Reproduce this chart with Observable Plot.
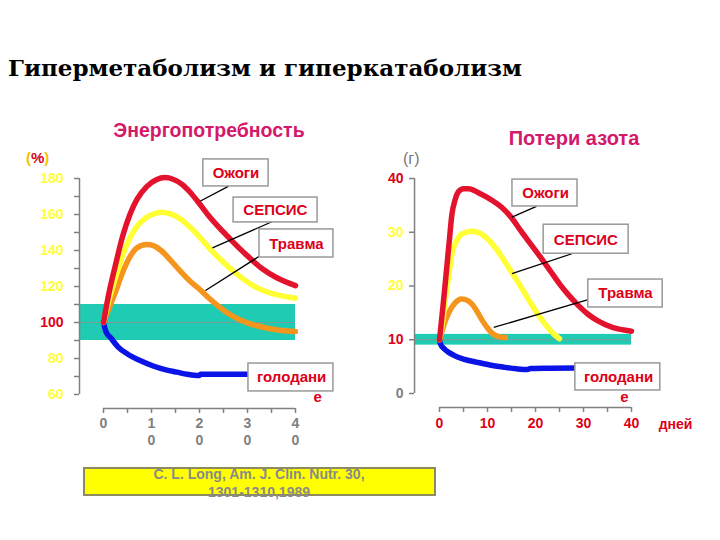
<!DOCTYPE html>
<html><head><meta charset="utf-8">
<script src="https://cdn.jsdelivr.net/npm/d3@7"></script>
<script src="https://cdn.jsdelivr.net/npm/@observablehq/plot@0.6"></script>
<style>
body{margin:0;background:#fff;}
#root{position:relative;width:720px;height:540px;overflow:hidden;background:#fff;font-family:"Liberation Sans",Arial,sans-serif;}
.abs{position:absolute;white-space:nowrap;line-height:1;}
.panel{position:absolute;}
</style></head><body><div id="root">
<div class="abs" style="left:8px;top:54px;font:bold 23px 'DejaVu Serif',serif;color:#000;">Гиперметаболизм и гиперкатаболизм</div>
<div class="abs" style="left:209px;top:121px;transform:translateX(-50%);font-weight:bold;font-size:19.5px;color:#d4186a;">Энергопотребность</div>
<div class="abs" style="left:574px;top:128px;transform:translateX(-50%);font-weight:bold;font-size:20px;color:#d4186a;">Потери азота</div>
<div class="abs" style="left:26px;top:150px;font-weight:bold;font-size:15px;"><span style="color:#f5c400">(</span><span style="color:#d9001b">%</span><span style="color:#f5c400">)</span></div>
<div class="abs" style="left:403px;top:151px;font-size:16px;color:#777;">(г)</div>
<div class="abs" style="left:83px;top:467px;width:353px;height:29px;box-sizing:border-box;background:#ffff00;border:2px solid #8b8b5e;"></div>
<div class="abs" style="left:259px;top:465px;transform:translateX(-50%);text-align:center;font-weight:bold;font-size:14px;line-height:18px;color:#8a8a8a;">C. L. Long, Am. J. Clin. Nutr. 30,<br>1301-1310,1989</div>
</div>
<script>
// ---------- data: Энергопотребность (%) ----------
const energyBurnsDays = [0,1,2.5,4,5.5,7,9,11,12.8,14.5,16.5,18,20,22,24,26,28,30,33,36,40];
const energyBurnsPct  = [100,114.5,132,148,160,168.5,175.5,179.3,180.5,179.6,176.5,172.5,166,159,153,147.5,142,137,130,125,120.5];
const energySepsisDays = [0,1,2.5,4,5.5,7,9,11,12.3,14,16,18,20,22,24,26,28,30,33,36,40];
const energySepsisPct  = [100,111,125,137.5,147,153.5,158.5,160.8,161.3,160.3,157.5,153,147.5,141.5,136,131,126.5,122.5,118,115.5,113.5];
const energyTraumaDays = [0,1,2.5,4,5.5,7,9,10.5,12,14,16,18,20,22,24,26,28,30,33,36,40];
const energyTraumaPct  = [100,107,117,128,136.5,141.5,143.3,142.6,140,134.5,128.5,123,118.5,113.5,109,105,102,99.8,97.5,96,95];
const energyStarvDays = [0,0.5,1.5,3,5,7.5,10.5,13,15.3,17.5,19.8,20.3,25,30];
const energyStarvPct  = [100,95,91.5,86.5,82.5,79,75.7,73.7,72.4,71.2,70.5,71.2,71.3,71.3];
const energyNormalBand = [90,110];
const energyNormalLine = [100];
const energyTicksMinor = [60,70,80,90,100,110,120,130,140,150,160,170,180];
const energyTicksYellow = [60,80,120,140,160,180];
const energyTicksRed = [100];
const dayTicksMinor = [0,5,10,15,20,25,30,35,40];
const dayTicksMajor = [0,10,20,30,40];

// ---------- data: Потери азота (г) ----------
const nitroBurnsDays = [0,0.7,1.25,2,2.6,3.3,4,5,6.1,8,11,13,15,17,19,21,23,25,27,29,31,33,36,40];
const nitroBurnsG    = [10,16,21,28,33.4,36.2,37.6,38.1,38.1,37.4,35.9,34.6,32.7,30.2,27.8,25.4,22.9,20.4,18.2,16.3,14.7,13.5,12.3,11.6];
const nitroSepsisDays = [0,0.6,1.25,2,2.6,3.5,4.7,6.8,8.5,10,12,14,16,18,20,22,24,25];
const nitroSepsisG    = [10,13,17.9,22.5,26,28.3,29.7,30.2,29.8,28.8,26.7,24,21.2,18.3,15.4,12.9,10.9,10.2];
const nitroTraumaDays = [0,0.6,1.25,2.2,3.3,4.5,5.3,6.8,8,8.9,10,11,12.3,13.75];
const nitroTraumaG    = [10,11.8,13.6,15.5,16.9,17.6,17.5,16.6,15,13.6,12.2,11.2,10.6,10.4];
const nitroStarvDays = [0,0.2,1,2,3,5,7.85,10.5,13.4,16,18.3,19,23,28.7];
const nitroStarvG    = [10,9.2,8.3,7.6,7.1,6.4,5.8,5.3,4.9,4.6,4.45,4.65,4.7,4.75];
const nitroNormalBand = [9,11];
const nitroNormalLine = [10];
const nitroTicksRed = [10,40];
const nitroTicksYellow = [20,30];
const nitroTicksGray = [0];
const nitroTicksAll = [0,10,20,30,40];

const labelBurns = "Ожоги", labelSepsis = "СЕПСИС", labelTrauma = "Травма";
const labelStarvA = "голодани", labelStarvB = "е";
const unitDays = "дней";

// ---------- styles ----------
const RED = "#e3122d", YEL = "#ffff33", ORA = "#f5951d", BLU = "#0a14e6";
const BAND = "#1fcbb3", GRAY = "#808080", TXTRED = "#dd0018", TICKYEL = "#ffff3a";
const FONT = "Liberation Sans, Arial, sans-serif";

const zip = (xs, ys) => xs.map((d, i) => ({d, v: ys[i]}));
const curve = (xs, ys, color) => Plot.line(zip(xs, ys), {x: "d", y: "v", stroke: color, strokeWidth: 5.5, curve: "monotone-x", strokeLinecap: "round", strokeLinejoin: "round"});

function annotation(a) {
  const marks = [];
  if (a.pointer) marks.push(Plot.link([a.pointer], {x1: p => p[0], y1: p => p[1], x2: p => p[2], y2: p => p[3], stroke: "#000", strokeWidth: 1.3}));
  marks.push(Plot.rect([a.box], {x1: b => b[0], x2: b => b[1], y1: b => b[2], y2: b => b[3], fill: "#fff", stroke: "#999", strokeWidth: 1.5}));
  marks.push(Plot.text([a.text], {x: a.at[0], y: a.at[1], text: d => d, fill: TXTRED, fontWeight: "bold", fontSize: 15, fontFamily: FONT}));
  return marks;
}

// ---------- left panel ----------
const left = Plot.plot({
  width: 360, height: 360,
  marginLeft: 79, marginTop: 78, marginBottom: 52, marginRight: 65,
  style: {background: "transparent", fontFamily: FONT, overflow: "visible"},
  x: {domain: [0, 40], range: [103, 295]},
  y: {domain: [60, 180], range: [294, 78]},
  marks: [
    Plot.rect([energyNormalBand], {x1: -5, x2: 40, y1: b => b[0], y2: b => b[1], fill: BAND}),
    Plot.ruleY(energyNormalLine, {x1: -5, x2: 40, stroke: "#7a9a96", strokeWidth: 1}),
    Plot.ruleX([-5], {y1: 60, y2: 180, stroke: GRAY, strokeWidth: 1.5}),
    Plot.ruleY([60], {x1: 0, x2: 40, dy: 14, stroke: GRAY, strokeWidth: 1.5}),
    Plot.axisY(energyTicksMinor, {tickSize: 5, tickFormat: () => "", stroke: GRAY, strokeWidth: 1.5, label: null}),
    Plot.axisY(energyTicksYellow, {tickSize: 5, tickPadding: 11, stroke: "none", fill: TICKYEL, fontWeight: "bold", fontSize: 14, label: null}),
    Plot.axisY(energyTicksRed, {tickSize: 5, tickPadding: 11, stroke: "none", fill: TXTRED, fontWeight: "bold", fontSize: 14, label: null}),
    Plot.axisX(dayTicksMinor, {tickSize: 5, tickFormat: () => "", stroke: GRAY, strokeWidth: 1.5, label: null}),
    Plot.axisX(dayTicksMajor, {tickSize: 0, tickPadding: 7, tickFormat: d => String(d).split("").join("\n"), lineHeight: 1.25, fill: GRAY, fontWeight: "bold", fontSize: 14, label: null}),
    curve(energyStarvDays, energyStarvPct, BLU),
    curve(energyTraumaDays, energyTraumaPct, ORA),
    curve(energySepsisDays, energySepsisPct, YEL),
    curve(energyBurnsDays, energyBurnsPct, RED),
    ...annotation({text: labelBurns, box: [20.8, 34.4, 175.6, 190.6], at: [27.6, 183.1], pointer: [20.2, 167.5, 26.0, 175.6]}),
    ...annotation({text: labelSepsis, box: [27.1, 44.6, 155.6, 169.4], at: [35.8, 162.5], pointer: [22.7, 141.5, 35.2, 156.1]}),
    ...annotation({text: labelTrauma, box: [32.5, 47.9, 136.1, 151.7], at: [40.2, 143.3], pointer: [21.25, 117.8, 32.7, 137.2]}),
    ...annotation({text: labelStarvA, box: [30.2, 47.9, 61.7, 77.2], at: [39.2, 69.4]}),
    Plot.text([labelStarvB], {x: 44.6, y: 58.3, text: d => d, fill: TXTRED, fontWeight: "bold", fontSize: 15, fontFamily: FONT})
  ]
});

// ---------- right panel ----------
const right = Plot.plot({
  width: 360, height: 360,
  marginLeft: 54, marginTop: 78, marginBottom: 53, marginRight: 89,
  style: {background: "transparent", fontFamily: FONT, overflow: "visible"},
  x: {domain: [0, 40], range: [79, 271]},
  y: {domain: [0, 40], range: [293, 78]},
  marks: [
    Plot.rect([nitroNormalBand], {x1: -5.2, x2: 40, y1: b => b[0], y2: b => b[1], fill: BAND}),
    Plot.ruleY(nitroNormalLine, {x1: -5.2, x2: 40, stroke: "#7a9a96", strokeWidth: 1}),
    Plot.ruleX([-5.2], {y1: 0, y2: 40, stroke: GRAY, strokeWidth: 1.5}),
    Plot.ruleY([0], {x1: 0, x2: 40, dy: 14, stroke: GRAY, strokeWidth: 1.5}),
    Plot.axisY(nitroTicksAll, {tickSize: 5, tickFormat: () => "", stroke: GRAY, strokeWidth: 1.5, label: null}),
    Plot.axisY(nitroTicksRed, {tickSize: 5, tickPadding: 6, stroke: "none", fill: TXTRED, fontWeight: "bold", fontSize: 14, label: null}),
    Plot.axisY(nitroTicksYellow, {tickSize: 5, tickPadding: 6, stroke: "none", fill: TICKYEL, fontWeight: "bold", fontSize: 14, label: null}),
    Plot.axisY(nitroTicksGray, {tickSize: 5, tickPadding: 6, stroke: "none", fill: GRAY, fontWeight: "bold", fontSize: 14, label: null}),
    Plot.axisX(dayTicksMinor, {tickSize: 5, tickFormat: () => "", stroke: GRAY, strokeWidth: 1.5, label: null}),
    Plot.axisX(dayTicksMajor, {tickSize: 0, tickPadding: 11, fill: TXTRED, fontWeight: "bold", fontSize: 14, label: null}),
    Plot.text([unitDays], {x: 40, y: 0, dx: 44, dy: 31, text: d => d, fill: TXTRED, fontWeight: "bold", fontSize: 14, fontFamily: FONT}),
    curve(nitroStarvDays, nitroStarvG, BLU),
    curve(nitroTraumaDays, nitroTraumaG, ORA),
    curve(nitroSepsisDays, nitroSepsisG, YEL),
    curve(nitroBurnsDays, nitroBurnsG, RED),
    ...annotation({text: labelBurns, box: [15.2, 28.75, 34.8, 39.8], at: [22.1, 37.3], pointer: [15.1, 32.8, 20.2, 34.8]}),
    ...annotation({text: labelSepsis, box: [21.7, 39.4, 26.0, 31.4], at: [30.5, 28.6], pointer: [15.1, 22.3, 27.6, 26.0]}),
    ...annotation({text: labelTrauma, box: [31, 46.5, 16, 21.2], at: [38.75, 18.6], pointer: [11.3, 12.3, 31.5, 17.6]}),
    ...annotation({text: labelStarvA, box: [28.3, 46, 0.56, 5.6], at: [37.3, 3.0]}),
    Plot.text([labelStarvB], {x: 38.5, y: -0.7, text: d => d, fill: TXTRED, fontWeight: "bold", fontSize: 15, fontFamily: FONT})
  ]
});

const root = document.getElementById("root");
left.classList.add("panel"); left.style.left = "0px"; left.style.top = "100px";
right.classList.add("panel"); right.style.left = "360px"; right.style.top = "100px";
root.appendChild(left);
root.appendChild(right);
</script>
</body></html>
